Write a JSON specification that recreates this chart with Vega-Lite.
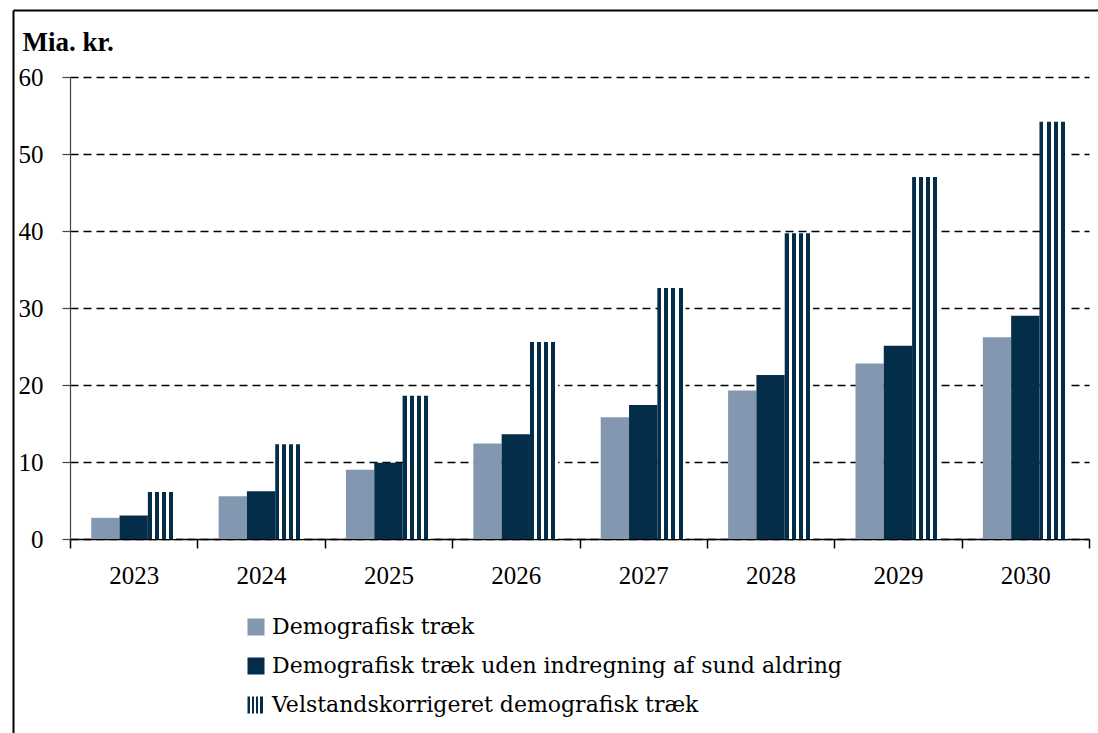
{
  "$schema": "https://vega.github.io/schema/vega-lite/v6.json",
  "width": 1019,
  "height": 462,
  "autosize": {"type": "none"},
  "padding": {"left": 70, "top": 77, "right": 9, "bottom": 194},
  "background": "white",
  "config": {"view": {"stroke": null}},
  "layer": [
    {
      "data": {
        "values": [
          {"year": "2023", "series": "Demografisk træk", "value": 2.75},
          {"year": "2023", "series": "Demografisk træk uden indregning af sund aldring", "value": 3.05},
          {"year": "2023", "series": "Velstandskorrigeret demografisk træk", "value": 6.1},
          {"year": "2024", "series": "Demografisk træk", "value": 5.55},
          {"year": "2024", "series": "Demografisk træk uden indregning af sund aldring", "value": 6.2},
          {"year": "2024", "series": "Velstandskorrigeret demografisk træk", "value": 12.3},
          {"year": "2025", "series": "Demografisk træk", "value": 9.0},
          {"year": "2025", "series": "Demografisk træk uden indregning af sund aldring", "value": 9.9},
          {"year": "2025", "series": "Velstandskorrigeret demografisk træk", "value": 18.6},
          {"year": "2026", "series": "Demografisk træk", "value": 12.4},
          {"year": "2026", "series": "Demografisk træk uden indregning af sund aldring", "value": 13.6},
          {"year": "2026", "series": "Velstandskorrigeret demografisk træk", "value": 25.6},
          {"year": "2027", "series": "Demografisk træk", "value": 15.8},
          {"year": "2027", "series": "Demografisk træk uden indregning af sund aldring", "value": 17.4},
          {"year": "2027", "series": "Velstandskorrigeret demografisk træk", "value": 32.6},
          {"year": "2028", "series": "Demografisk træk", "value": 19.3},
          {"year": "2028", "series": "Demografisk træk uden indregning af sund aldring", "value": 21.3},
          {"year": "2028", "series": "Velstandskorrigeret demografisk træk", "value": 39.7},
          {"year": "2029", "series": "Demografisk træk", "value": 22.8},
          {"year": "2029", "series": "Demografisk træk uden indregning af sund aldring", "value": 25.1},
          {"year": "2029", "series": "Velstandskorrigeret demografisk træk", "value": 47.0},
          {"year": "2030", "series": "Demografisk træk", "value": 26.2},
          {"year": "2030", "series": "Demografisk træk uden indregning af sund aldring", "value": 29.0},
          {"year": "2030", "series": "Velstandskorrigeret demografisk træk", "value": 54.2}
        ]
      },
      "mark": {"type": "bar"},
      "encoding": {
        "x": {
          "field": "year",
          "type": "nominal",
          "scale": {"paddingInner": 0, "paddingOuter": 0},
          "axis": {
            "title": null,
            "labelAngle": 0,
            "tickBand": "extent",
            "ticks": true,
            "tickSize": 9,
            "tickColor": "black",
            "tickWidth": 1.5,
            "domainColor": "black",
            "domainWidth": 1.5,
            "labelFont": "Liberation Serif",
            "labelFontSize": 25,
            "labelColor": "black",
            "labelPadding": 15,
            "grid": false
          }
        },
        "xOffset": {
          "field": "series",
          "type": "nominal",
          "sort": ["Demografisk træk", "Demografisk træk uden indregning af sund aldring", "Velstandskorrigeret demografisk træk"],
          "scale": {"paddingInner": 0, "paddingOuter": 0.75}
        },
        "y": {
          "field": "value",
          "type": "quantitative",
          "scale": {"domain": [0, 60], "nice": false},
          "axis": {
            "title": "Mia. kr.",
            "titleAngle": 0,
            "titleX": -48,
            "titleY": -27,
            "titleAlign": "left",
            "titleBaseline": "alphabetic",
            "titleFont": "Liberation Serif",
            "titleFontSize": 27,
            "titleFontWeight": "bold",
            "titleColor": "black",
            "values": [0, 10, 20, 30, 40, 50, 60],
            "tickSize": 8,
            "tickColor": "#444444",
            "tickWidth": 1.2,
            "domainColor": "#444444",
            "domainWidth": 1.2,
            "grid": true,
            "gridColor": "black",
            "gridDash": [8, 5],
            "gridWidth": 1.5,
            "labelFont": "Liberation Serif",
            "labelFontSize": 25,
            "labelColor": "black",
            "labelPadding": 19
          }
        },
        "color": {
          "field": "series",
          "type": "nominal",
          "scale": {
            "domain": ["Demografisk træk", "Demografisk træk uden indregning af sund aldring", "Velstandskorrigeret demografisk træk"],
            "range": [
              "#8497B0",
              "#032D48",
              {"expr": "{gradient: 'linear', x1: 0, y1: 0, x2: 1, y2: 0, stops: [{offset: 0, color: '#032D48'}, {offset: 0.14, color: '#032D48'}, {offset: 0.14, color: '#ffffff'}, {offset: 0.25, color: '#ffffff'}, {offset: 0.25, color: '#032D48'}, {offset: 0.39, color: '#032D48'}, {offset: 0.39, color: '#ffffff'}, {offset: 0.5, color: '#ffffff'}, {offset: 0.5, color: '#032D48'}, {offset: 0.64, color: '#032D48'}, {offset: 0.64, color: '#ffffff'}, {offset: 0.75, color: '#ffffff'}, {offset: 0.75, color: '#032D48'}, {offset: 0.89, color: '#032D48'}, {offset: 0.89, color: '#ffffff'}, {offset: 1, color: '#ffffff'}]}"}
            ]
          },
          "legend": {
            "title": null,
            "orient": "none",
            "legendX": 175,
            "legendY": 539,
            "padding": 0,
            "symbolType": "square",
            "symbolSize": 289,
            "symbolStrokeWidth": 0,
            "symbolOpacity": 1,
            "rowPadding": 17,
            "labelOffset": 5,
            "labelFont": "DejaVu Serif",
            "labelFontSize": 22,
            "labelColor": "black",
            "labelLimit": 800
          }
        }
      }
    },
    {
      "data": {"values": [{"f": 0}]},
      "mark": {"type": "point", "opacity": 0},
      "encoding": {
        "x": {
          "field": "f",
          "type": "quantitative",
          "scale": {"domain": [0, 1], "range": [-57, 1200]},
          "axis": {"orient": "top", "offset": 67, "domainColor": "black", "domainWidth": 2, "ticks": false, "labels": false, "grid": false, "title": null}
        },
        "y": {
          "field": "f",
          "type": "quantitative",
          "scale": {"domain": [0, 1], "range": [700, -67]},
          "axis": {"orient": "left", "offset": 57, "domainColor": "black", "domainWidth": 2, "ticks": false, "labels": false, "grid": false, "title": null}
        }
      }
    }
  ],
  "resolve": {
    "scale": {"x": "independent", "y": "independent"},
    "axis": {"x": "independent", "y": "independent"}
  }
}
